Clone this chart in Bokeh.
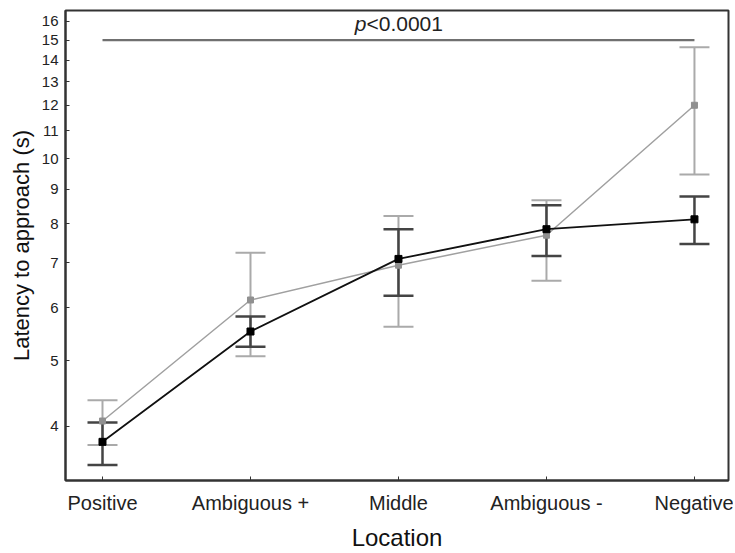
from bokeh.plotting import figure
from bokeh.models import Range1d, FixedTicker, BasicTickFormatter, Whisker, TeeHead, ColumnDataSource
from bokeh.core.properties import value
from bokeh.embed import file_html
from bokeh.resources import INLINE

categories = ["Positive", "Ambiguous +", "Middle", "Ambiguous -", "Negative"]
x_pos = [0, 1, 2, 3, 4]

black_mean = [3.79, 5.53, 7.09, 7.85, 8.12]
black_upper = [4.05, 5.82, 7.85, 8.52, 8.78]
black_lower = [3.50, 5.25, 6.25, 7.16, 7.46]

gray_mean = [4.07, 6.16, 6.94, 7.69, 12.0]
gray_upper = [4.37, 7.24, 8.21, 8.67, 14.64]
gray_lower = [3.75, 5.08, 5.62, 6.58, 9.47]

y_ticks = [4, 5, 6, 7, 8, 9, 10, 11, 12, 13, 14, 15, 16]
sig_y = [15]
sig_x = [0, 4]
sig_text = "<0.0001"

FONT = "Liberation Sans"

p = figure(width=733, height=553, y_axis_type="log",
           x_range=Range1d(-0.25, 4.23), y_range=Range1d(3.32, 16.6),
           output_backend="svg", toolbar_location=None,
           min_border_left=65, min_border_right=5, min_border_top=10, min_border_bottom=70)

p.grid.visible = False
p.outline_line_color = "#333333"
p.outline_line_width = 2

# axes
p.xaxis.ticker = FixedTicker(ticks=x_pos)
p.xaxis.major_label_overrides = {x: c for x, c in zip(x_pos, categories)}
p.yaxis.ticker = FixedTicker(ticks=y_ticks)
p.yaxis.formatter = BasicTickFormatter()
for ax in (p.xaxis[0], p.yaxis[0]):
    ax.axis_line_color = "#333333"
    ax.axis_line_width = 2
    ax.major_tick_in = 4
    ax.major_tick_out = 0
    ax.major_tick_line_color = "#333333"
    ax.major_tick_line_width = 1
    ax.minor_tick_line_color = None
    ax.major_label_text_font = FONT
    ax.major_label_text_color = "#222222"
    ax.axis_label_text_font = FONT
    ax.axis_label_text_font_style = "normal"
    ax.axis_label_text_color = "#111111"

p.xaxis.major_label_text_font_size = "20px"
p.xaxis.major_label_standoff = 11
p.xaxis.axis_label = "Location"
p.xaxis.axis_label_text_font_size = "24px"
p.xaxis.axis_label_standoff = 7

p.yaxis.major_label_text_font_size = "15px"
p.yaxis.major_label_standoff = 7
p.yaxis.axis_label = "Latency to approach (s)"
p.yaxis.axis_label_text_font_size = "22px"
p.yaxis.axis_label_standoff = 5

# gray series
gsrc = ColumnDataSource(dict(x=x_pos, m=gray_mean, up=gray_upper, lo=gray_lower))
gw = Whisker(base="x", upper="up", lower="lo", source=gsrc, dimension="height",
             line_color="#aaaaaa", line_width=2,
             upper_head=TeeHead(size=30, line_color="#aaaaaa", line_width=2),
             lower_head=TeeHead(size=30, line_color="#aaaaaa", line_width=2))
p.add_layout(gw)

# black series
bsrc = ColumnDataSource(dict(x=x_pos, m=black_mean, up=black_upper, lo=black_lower))
bw = Whisker(base="x", upper="up", lower="lo", source=bsrc, dimension="height",
             line_color="#444444", line_width=2.5,
             upper_head=TeeHead(size=30, line_color="#444444", line_width=2.5),
             lower_head=TeeHead(size=30, line_color="#444444", line_width=2.5))
p.add_layout(bw)

p.line("x", "m", source=gsrc, line_color="#a0a0a0", line_width=1.5)
p.scatter("x", "m", source=gsrc, marker="square", size=6, fill_color="#909090", line_color="#909090")
p.line("x", "m", source=bsrc, line_color="#111111", line_width=1.8)
p.scatter("x", "m", source=bsrc, marker="square", size=7, fill_color="#000000", line_color="#000000")

# significance line
p.line(sig_x, sig_y * 2, line_color="#707070", line_width=2.2)
mid = (sig_x[0] + sig_x[1]) / 2
p.text(x=[mid], y=sig_y, text=["p"], text_font=value(FONT), text_font_style="italic",
       text_font_size="21px", text_align="right", text_baseline="bottom",
       x_offset=-32, y_offset=-5, text_color="#222222")
p.text(x=[mid], y=sig_y, text=[sig_text], text_font=value(FONT),
       text_font_size="21px", text_align="left", text_baseline="bottom",
       x_offset=-32, y_offset=-5, text_color="#222222")

open("out.html", "w").write(file_html(p, INLINE))
